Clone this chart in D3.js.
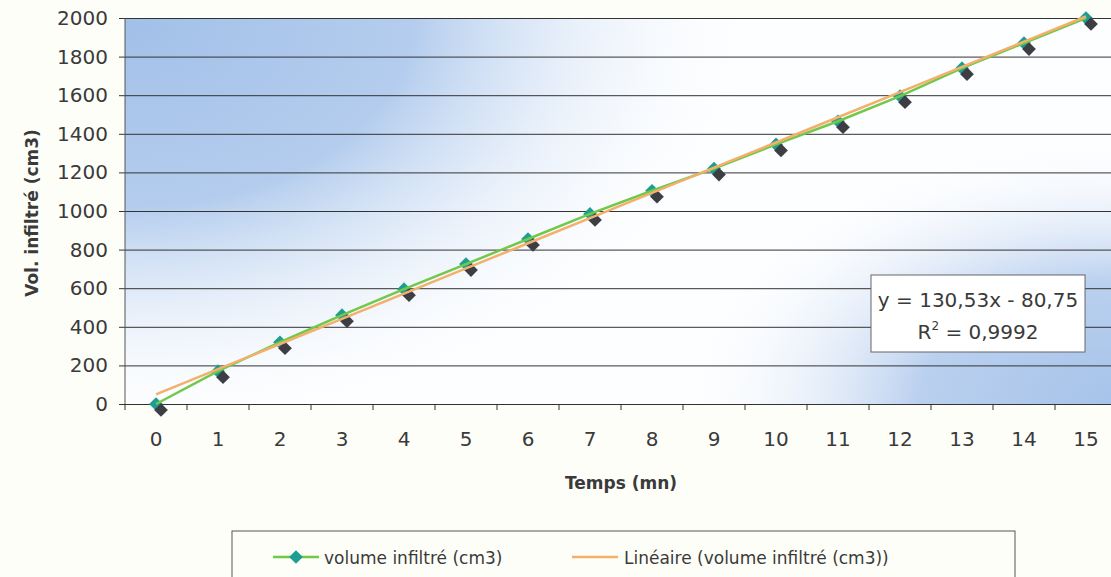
<!DOCTYPE html>
<html lang="fr">
<head>
<meta charset="UTF-8">
<title>Volume infiltré</title>
<script src="https://d3js.org/d3.v7.min.js"></script>
<style>
  body { margin: 0; background: #fefef9; overflow: hidden; }
  svg text { font-family: "DejaVu Sans", sans-serif; fill: #3a3a3a; }
</style>
</head>
<body>
<div id="chart"></div>
<script>
// données
const temps = [0, 1, 2, 3, 4, 5, 6, 7, 8, 9, 10, 11, 12, 13, 14, 15];
const volume = [0, 170, 320, 460, 595, 725, 855, 985, 1105, 1220, 1345, 1465, 1595, 1740, 1870, 2000];
const yTicks = [0, 200, 400, 600, 800, 1000, 1200, 1400, 1600, 1800, 2000];
const pente = 130.53, ordonnee = -80.75; // tendance Excel, x = rang 1..16
const equation = ["y = 130,53x - 80,75", "0,9992"];
const legendLabels = ["volume infiltré (cm3)", "Linéaire (volume infiltré (cm3))"];

const W = 1111, H = 577;
const margin = { top: 18, left: 125, bottom: 173 };
const plotW = 992, plotH = H - margin.top - margin.bottom;

const svg = d3.select("#chart").append("svg")
  .attr("width", W).attr("height", H);

// fond dégradé : bleu dans les coins haut-gauche et bas-droite
const defs = svg.append("defs");
const g1 = defs.append("radialGradient").attr("id", "bgTL")
  .attr("gradientUnits", "userSpaceOnUse").attr("cx", 0).attr("cy", 0).attr("r", 1)
  .attr("gradientTransform", "scale(640,420)");
g1.append("stop").attr("offset", 0).attr("stop-color", "#a2c0e8");
g1.append("stop").attr("offset", 0.45).attr("stop-color", "#b4cdee");
g1.append("stop").attr("offset", 1).attr("stop-color", "#ffffff").attr("stop-opacity", 0);
const g2 = defs.append("radialGradient").attr("id", "bgBR")
  .attr("gradientUnits", "userSpaceOnUse").attr("cx", 0).attr("cy", 0).attr("r", 1)
  .attr("gradientTransform", `translate(${plotW},${plotH}) scale(440,270)`);
g2.append("stop").attr("offset", 0).attr("stop-color", "#a6c3e9");
g2.append("stop").attr("offset", 0.45).attr("stop-color", "#bad0ef");
g2.append("stop").attr("offset", 1).attr("stop-color", "#ffffff").attr("stop-opacity", 0);

const g = svg.append("g").attr("transform", `translate(${margin.left},${margin.top})`);

const x = d3.scaleBand().domain(temps).range([0, plotW]);
const y = d3.scaleLinear().domain([0, 2000]).range([plotH, 0]);
const cx = d => x(d) + x.bandwidth() / 2;

g.append("rect").attr("width", plotW).attr("height", plotH).attr("fill", "#fdfeff");
g.append("rect").attr("width", plotW).attr("height", plotH).attr("fill", "url(#bgTL)");
g.append("rect").attr("width", plotW).attr("height", plotH).attr("fill", "url(#bgBR)");

// quadrillage + axe Y
const yAxis = g.append("g")
  .call(d3.axisLeft(y).tickValues(yTicks).tickFormat(d3.format("d")).tickSize(-plotW).tickPadding(10));
yAxis.select(".domain").remove();
yAxis.selectAll(".tick line").attr("x1", -6).attr("x2", plotW).attr("stroke", "#333").attr("stroke-width", 1);
yAxis.selectAll(".tick text").attr("font-size", 20).attr("x", -17);
g.append("line").attr("x1", 0).attr("x2", 0).attr("y1", 0).attr("y2", plotH)
  .attr("stroke", "#555").attr("stroke-width", 1);

// axe X
const xAxis = g.append("g").attr("transform", `translate(0,${plotH})`)
  .call(d3.axisBottom(x).tickSize(0).tickPadding(28));
xAxis.select(".domain").attr("stroke", "#333");
xAxis.selectAll(".tick text").attr("font-size", 20);
g.append("g").selectAll("line")
  .data(temps.concat([temps.length]))
  .join("line")
  .attr("x1", (d, i) => i * x.bandwidth()).attr("x2", (d, i) => i * x.bandwidth())
  .attr("y1", plotH).attr("y2", plotH + 6)
  .attr("stroke", "#333");

// titres des axes
svg.append("text").attr("x", margin.left + plotW / 2).attr("y", 489).attr("text-anchor", "middle")
  .attr("font-size", 17).attr("font-weight", "bold").text("Temps (mn)");
svg.append("text").attr("transform", "translate(38,213) rotate(-90)")
  .attr("text-anchor", "middle").attr("font-size", 17).attr("font-weight", "bold")
  .text("Vol. infiltré (cm3)");

// marqueurs (losange + ombre)
const diamond = d3.symbol().type(d3.symbolDiamond2).size(120);
g.append("g").selectAll("path").data(volume).join("path")
  .attr("d", diamond)
  .attr("transform", (d, i) => `translate(${cx(temps[i])},${y(d)})`)
  .attr("fill", "#1e9e92");
g.append("g").selectAll("path").data(volume).join("path")
  .attr("d", diamond)
  .attr("transform", (d, i) => `translate(${cx(temps[i]) + 5},${y(d) + 6})`)
  .attr("fill", "#3d3d44");

// courbe
const line = d3.line().x((d, i) => cx(temps[i])).y(d => y(d));
g.append("path").datum(volume).attr("fill", "none")
  .attr("stroke", "#72c84a").attr("stroke-width", 2.5).attr("d", line);

// tendance
const trend = temps.map((t, i) => pente * (i + 1) + ordonnee);
g.append("path").datum(trend).attr("fill", "none")
  .attr("stroke", "#f3b06c").attr("stroke-width", 2.5).attr("d", line);

// équation
const eq = svg.append("g").attr("transform", "translate(871,275)");
eq.append("rect").attr("width", 214).attr("height", 77)
  .attr("fill", "#fff").attr("stroke", "#666");
eq.append("text").attr("x", 107).attr("y", 32).attr("text-anchor", "middle")
  .attr("font-size", 20).text(equation[0]);
const r2 = eq.append("text").attr("x", 107).attr("y", 64).attr("text-anchor", "middle").attr("font-size", 20);
r2.append("tspan").text("R");
r2.append("tspan").attr("font-size", 12).attr("dy", -9).text("2");
r2.append("tspan").attr("dy", 9).text(" = " + equation[1]);

// légende
const lg = svg.append("g").attr("transform", "translate(232,531)");
lg.append("rect").attr("width", 783).attr("height", 60)
  .attr("fill", "#fefef9").attr("stroke", "#555");
lg.append("line").attr("x1", 41).attr("x2", 87).attr("y1", 26).attr("y2", 26)
  .attr("stroke", "#72c84a").attr("stroke-width", 2.5);
lg.append("path").attr("d", diamond).attr("transform", "translate(64,26)").attr("fill", "#1e9e92");
lg.append("text").attr("x", 92).attr("y", 33).attr("font-size", 17).text(legendLabels[0]);
lg.append("line").attr("x1", 340).attr("x2", 386).attr("y1", 26).attr("y2", 26)
  .attr("stroke", "#f3b06c").attr("stroke-width", 2.5);
lg.append("text").attr("x", 392).attr("y", 33).attr("font-size", 17).text(legendLabels[1]);
</script>
</body>
</html>
